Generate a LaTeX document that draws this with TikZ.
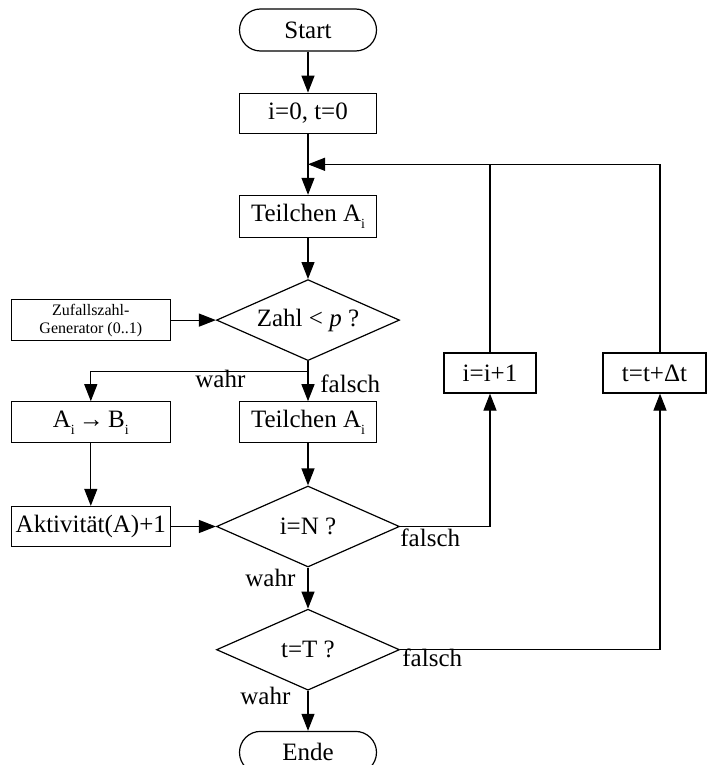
\documentclass[tikz,border=0pt]{standalone}
\usepackage{fontspec}
\setmainfont{Liberation Serif}
\usetikzlibrary{arrows.meta,positioning,shapes.geometric,calc}
\newcommand{\lowsub}[1]{\raisebox{-0.6ex}{\fontsize{7pt}{7pt}\selectfont #1}}

\begin{document}
\begin{tikzpicture}[
    x=1pt, y=1pt,
    font=\fontsize{12.5pt}{15pt}\selectfont,
    node distance=20.5pt,
    term/.style={rectangle, rounded corners=10.5pt, draw, line width=0.6pt, minimum width=68.5pt, minimum height=21pt, inner sep=1pt},
    box/.style={rectangle, draw, line width=0.6pt, align=center, minimum width=68.5pt, minimum height=20.5pt, inner sep=1pt},
    smallbox/.style={box, minimum width=79.5pt, font=\fontsize{8pt}{9pt}\selectfont},
    decide/.style={diamond, draw, line width=0.6pt, aspect=2.26, inner sep=0pt, minimum width=91.5pt, minimum height=40.5pt},
    arrow/.style={-{Triangle[length=8.5pt,width=6.5pt]}, line width=0.6pt},
    line/.style={line width=0.6pt},
    lbl/.style={anchor=base west, inner sep=0pt}
]
\useasboundingbox (0,0) rectangle (353.5,-382.5);

% main column
\node[term] (start) at (154,-15) {Start};
\node[box, minimum height=20pt, below=of start] (i0) {i=0, t=0};
\node[box, minimum height=21pt, below=30.5pt of i0] (teil1) {Teilchen A\lowsub{i}};
\node[decide, below=of teil1] (zahl) {Zahl < \textit{p} ?};
\node[box, below=20pt of zahl] (teil2) {Teilchen A\lowsub{i}};
\node[decide, below=21pt of teil2] (iN) {i=N ?};
\node[decide, below=of iN] (tT) {t=T ?};
\node[term, below=20pt of tT] (ende) {Ende};

% left column
\node[smallbox, left=22.5pt of zahl] (zufall) {Zufallszahl-\\Generator (0..1)};
\node[box, minimum width=79.5pt, left=34pt of teil2] (ab) {A\lowsub{i}\,→\,B\lowsub{i}};
\node[box, minimum width=79.5pt, minimum height=20pt, left=22.5pt of iN] (aktiv) {Aktivität(A)+1};

% right column
\node[box, minimum width=46pt, minimum height=20pt] (iplus) at (245,-186.5) {i=i+1};
\node[box, minimum width=51.5pt, minimum height=20pt] (tplus) at (327.25,-186.5) {t=t+Δt};

% labels
\node[lbl] (w1) at (97.5,-193.5) {wahr};
\node[lbl] (f1) at (160,-196) {falsch};
\node[lbl] (f2) at (200,-273.4) {falsch};
\node[lbl] (w2) at (122.5,-293) {wahr};
\node[lbl] (f3) at (201,-333.3) {falsch};
\node[lbl] (w3) at (120,-352) {wahr};

\coordinate (join) at ($(i0.south)!0.5!(teil1.north)$);
\coordinate (split) at ([yshift=-5pt]zahl.south);

\draw[arrow] (start) -- (i0);
\draw[arrow] (i0) -- (teil1);
\draw[arrow] ([xshift=2.75pt]tplus.north) |- (join);
\draw[line] (iplus.north) -- (iplus.north |- join);
\draw[arrow] (teil1) -- (zahl);
\draw[arrow] (zufall) -- (zahl);
\draw[arrow] (zahl) -- (teil2);
\draw[arrow] (split) -| (ab.north);
\draw[arrow] (ab) -- (aktiv);
\draw[arrow] (aktiv) -- (iN);
\draw[arrow] (teil2) -- (iN);
\draw[arrow] (iN.east) -| (iplus.south);
\draw[arrow] (iN) -- (tT);
\draw[arrow] (tT.east) -| ([xshift=2.75pt]tplus.south);
\draw[arrow] (tT) -- (ende);
\end{tikzpicture}
\end{document}
